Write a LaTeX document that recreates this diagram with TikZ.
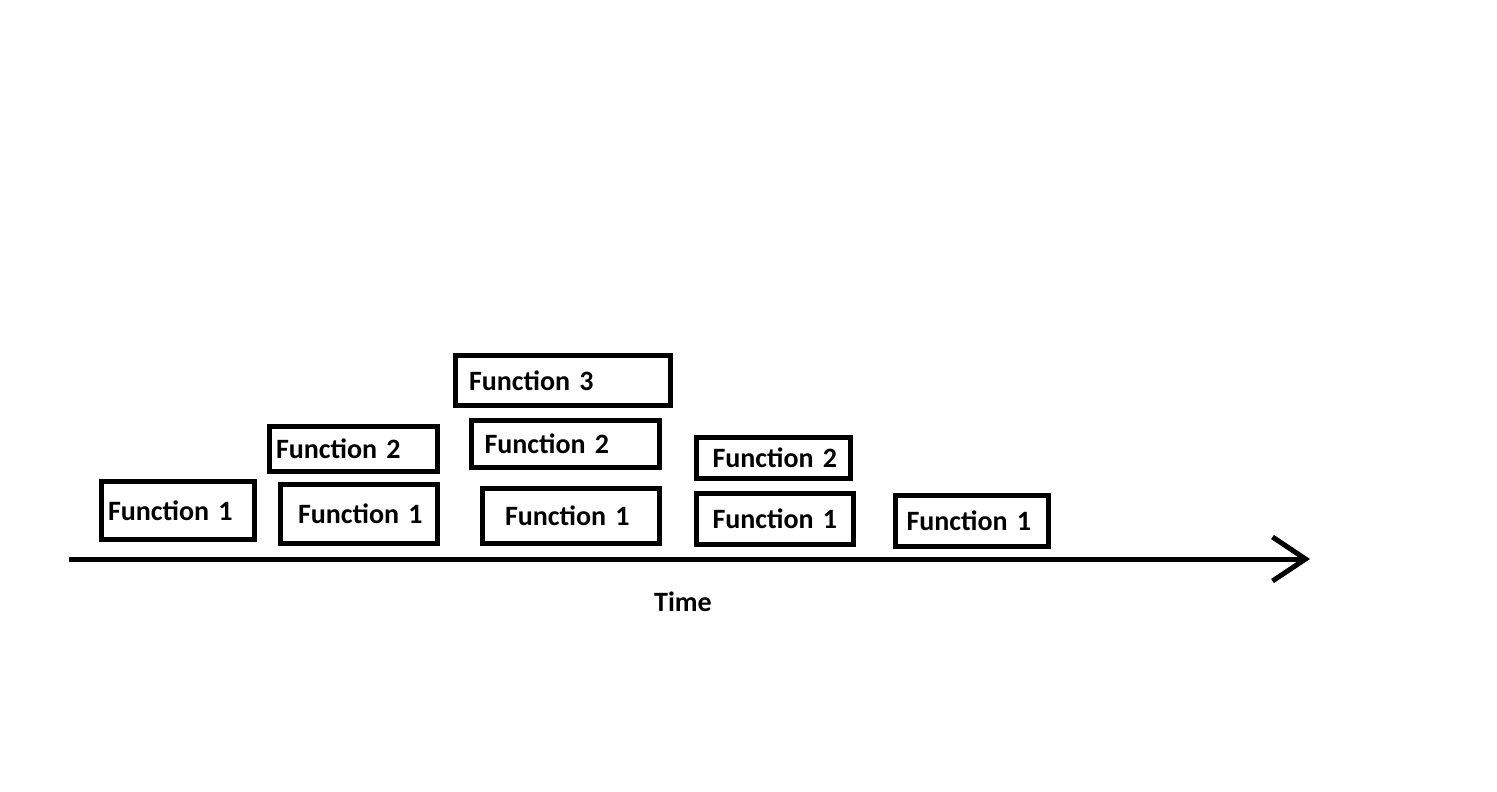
\documentclass[tikz,border=0pt]{standalone}
\usepackage{fontspec}
\setmainfont{Carlito}[WordSpace=0.4]
\usepackage{tikz}
\usetikzlibrary{arrows.meta}

\begin{document}
\begin{tikzpicture}[x=1pt, y=-1pt,
  funcbox/.style={draw=black, line width=5pt, outer sep=0pt, anchor=north west, align=left,
    inner ysep=0pt, font=\fontsize{28}{30}\selectfont\bfseries},
  timeaxis/.style={line width=5pt, -{Straight Barb[length=33pt, width=44pt, line width=5pt]}}]
\useasboundingbox (0,0) rectangle (1497,792);
%%%%% Column 1 %%%%%
\node (f1a) [funcbox, inner xsep=6.5pt, text width=140pt, minimum height=58pt] at (101.5,481.5) {Function~1};
%%%%% Column 2 %%%%%
\node (f2a) [funcbox, inner xsep=6.5pt, text width=155pt, minimum height=45pt] at (269.5,426.5) {Function~2};
\node (f1b) [funcbox, inner xsep=17.5pt, text width=122pt, minimum height=59pt] at (280.5,484.5) {Function~1};
%%%%% Column 3 %%%%%
\node (f3c) [funcbox, inner xsep=13.5pt, text width=188pt, minimum height=50pt] at (455.5,355.5) {Function~3};
\node (f2c) [funcbox, inner xsep=13pt, text width=162pt, minimum height=47pt] at (471.5,420.5) {Function~2};
\node (f1c) [funcbox, inner xsep=22.5pt, text width=132pt, minimum height=55pt] at (482.5,488.5) {Function~1};
%%%%% Column 4 %%%%%
\node (f2d) [funcbox, inner xsep=16.5pt, text width=121pt, minimum height=40.5pt] at (696,437.5) {Function~2};
\node (f1d) [funcbox, inner xsep=16pt, text width=124.5pt, minimum height=50.5pt] at (696.5,493.5) {Function~1};
%%%%% Column 5 %%%%%
\node (f1e) [funcbox, inner xsep=11.5pt, text width=130.5pt, minimum height=51pt] at (895,495) {Function~1};
%%%%% Axis %%%%%
\coordinate (tstart) at (69,559);
\coordinate (tend) at (1310,559);
\draw[timeaxis] (tstart) -- (tend);
\node (time) [font=\fontsize{28}{30}\selectfont\bfseries] at (683,602) {Time};
\end{tikzpicture}
\end{document}
